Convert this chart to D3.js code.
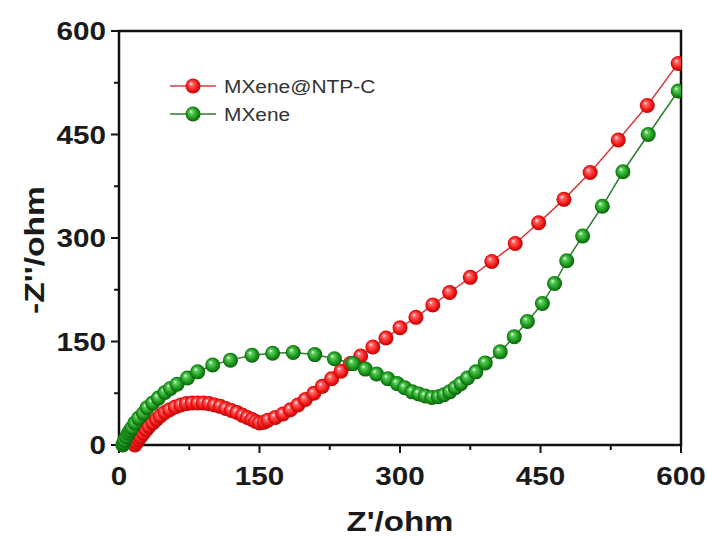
<!DOCTYPE html>
<html>
<head>
<meta charset="utf-8">
<script src="https://cdn.jsdelivr.net/npm/d3@7"></script>
<style>
  html, body { margin: 0; padding: 0; background: #fff; }
  svg { display: block; }
</style>
</head>
<body>
<svg id="chart" width="707" height="538"></svg>
<script>
// Nyquist plot data: [Z' (ohm), -Z'' (ohm)]
const seriesNames = ["MXene@NTP-C", "MXene"];
const lineColors = ["#d83a3a", "#2f7d2f"];

const mxeneNtpc = [
  [17,0],[19,4],[21,8],[23,12],[26,17],[29,22],[32,27],[36,32],[40,37],[44,42],
  [49,47],[54,51],[60,55],[66,58],[72,60],[78,61],[84,61],[90,61],[96,60],[102,58],
  [108,56],[114,53],[120,50],[126,47],[132,43],[137,40],[142,37],[146,34],[150,32],[155,33],
  [159,36],[167,40],[175,45],[183,51],[191,58],[199,66],[208,75],[217,85],[227,96],[237,107],
  [247,118],[258,129],[271,142],[285,155],[300,170],[317,185],[335,203],[353,221],[375,243],[398,266],
  [423,292],[448,322],[475,356],[503,395],[533,442],[564,492],[597,553]
];

const mxene = [
  [4,0],[5,3],[6,7],[8,12],[10,17],[12,21],[14,25],[17,32],[21,39],[26,46],
  [30,54],[36,61],[42,68],[49,76],[55,82],[62,88],[73,97],[84,106],[100,116],[119,123],
  [142,130],[164,133],[186,134],[209,131],[230,125],[250,118],[263,110],[275,103],[287,96],[297,89],
  [305,83],[313,77],[320,74],[327,71],[334,69],[341,70],[347,73],[353,77],[359,83],[365,89],
  [372,97],[381,106],[391,119],[407,135],[422,157],[436,179],[452,205],[465,234],[478,267],[495,303],
  [516,346],[538,396],[565,450],[597,513]
];

const xTicks = [0, 150, 300, 450, 600];
const yTicks = [0, 150, 300, 450, 600];
const xMinor = [75, 225, 375, 525];
const yMinor = [75, 225, 375, 525];
const xTitle = "Z'/ohm";
const yTitle = "-Z''/ohm";

const svg = d3.select("#chart");
const plotLeft = 119, plotRight = 681, plotTop = 31, plotBottom = 445;

const x = d3.scaleLinear().domain([0, 600]).range([plotLeft, plotRight]);
const y = d3.scaleLinear().domain([0, 600]).range([plotBottom, plotTop]);

// Sphere-like marker gradients
const defs = svg.append("defs");
function sphereGrad(id, base, light, dark) {
  const g = defs.append("radialGradient").attr("id", id)
    .attr("cx", "50%").attr("cy", "50%").attr("r", "55%")
    .attr("fx", "35%").attr("fy", "32%");
  g.append("stop").attr("offset", "0%").attr("stop-color", "#ffffff");
  g.append("stop").attr("offset", "22%").attr("stop-color", light);
  g.append("stop").attr("offset", "70%").attr("stop-color", base);
  g.append("stop").attr("offset", "100%").attr("stop-color", dark);
}
sphereGrad("gRed", "#f01010", "#ff6a6a", "#a00808");
sphereGrad("gGreen", "#158f15", "#5ccf5c", "#0a4f0a");
const grads = ["url(#gRed)", "url(#gGreen)"];

const clip = defs.append("clipPath").attr("id", "plotClip");
clip.append("rect").attr("x", plotLeft - 10).attr("y", plotTop)
  .attr("width", plotRight - plotLeft + 10).attr("height", plotBottom - plotTop + 10);

// Frame
const axisColor = "#111";
svg.append("rect")
  .attr("x", plotLeft).attr("y", plotTop)
  .attr("width", plotRight - plotLeft).attr("height", plotBottom - plotTop)
  .attr("fill", "none").attr("stroke", axisColor).attr("stroke-width", 2.5);

// Ticks
const tickG = svg.append("g").attr("stroke", axisColor).attr("stroke-width", 2);
xTicks.forEach(t => tickG.append("line").attr("x1", x(t)).attr("x2", x(t)).attr("y1", plotBottom).attr("y2", plotBottom + 8));
xMinor.forEach(t => tickG.append("line").attr("x1", x(t)).attr("x2", x(t)).attr("y1", plotBottom).attr("y2", plotBottom + 5));
yTicks.forEach(t => tickG.append("line").attr("y1", y(t)).attr("y2", y(t)).attr("x1", plotLeft).attr("x2", plotLeft - 8));
yMinor.forEach(t => tickG.append("line").attr("y1", y(t)).attr("y2", y(t)).attr("x1", plotLeft).attr("x2", plotLeft - 5));

const fontFam = "'Liberation Sans', Arial, Helvetica, sans-serif";

// Tick labels
xTicks.forEach(t => {
  svg.append("text")
    .attr("transform", `translate(${x(t)},${plotBottom + 40}) scale(1.14,1)`)
    .attr("text-anchor", "middle")
    .attr("font-family", fontFam).attr("font-weight", "bold").attr("font-size", 26)
    .attr("fill", "#1a1a1a").text(t);
});
yTicks.forEach(t => {
  svg.append("text")
    .attr("transform", `translate(${plotLeft - 13},${y(t) + 9}) scale(1.14,1)`)
    .attr("text-anchor", "end")
    .attr("font-family", fontFam).attr("font-weight", "bold").attr("font-size", 26)
    .attr("fill", "#1a1a1a").text(t);
});

// Axis titles
svg.append("text")
  .attr("transform", `translate(400,531) scale(1.18,1)`)
  .attr("text-anchor", "middle")
  .attr("font-family", fontFam).attr("font-weight", "bold").attr("font-size", 28)
  .attr("fill", "#1a1a1a").text(xTitle);
svg.append("text")
  .attr("transform", `translate(44,250) rotate(-90) scale(1.2,1)`)
  .attr("text-anchor", "middle")
  .attr("font-family", fontFam).attr("font-weight", "bold").attr("font-size", 28)
  .attr("fill", "#1a1a1a").text(yTitle);

// Series
const line = d3.line().x(d => x(d[0])).y(d => y(d[1]));
const plot = svg.append("g").attr("clip-path", "url(#plotClip)");
[mxeneNtpc, mxene].forEach((data, i) => {
  plot.append("path").datum(data)
    .attr("d", line).attr("fill", "none")
    .attr("stroke", lineColors[i]).attr("stroke-width", 1.5);
  plot.append("g").selectAll("circle").data(data).join("circle")
    .attr("cx", d => x(d[0])).attr("cy", d => y(d[1]))
    .attr("r", 7.5).attr("fill", grads[i]);
});

// Legend
const legend = svg.append("g");
seriesNames.forEach((name, i) => {
  const ly = 86 + i * 28;
  legend.append("line").attr("x1", 170).attr("x2", 216).attr("y1", ly).attr("y2", ly)
    .attr("stroke", lineColors[i]).attr("stroke-width", 1.5);
  legend.append("circle").attr("cx", 193).attr("cy", ly).attr("r", 7.5).attr("fill", grads[i]);
  legend.append("text")
    .attr("transform", `translate(224,${ly + 7}) scale(1.1,1)`)
    .attr("font-family", fontFam).attr("font-size", 19)
    .attr("fill", "#333").text(name);
});
</script>
</body>
</html>
